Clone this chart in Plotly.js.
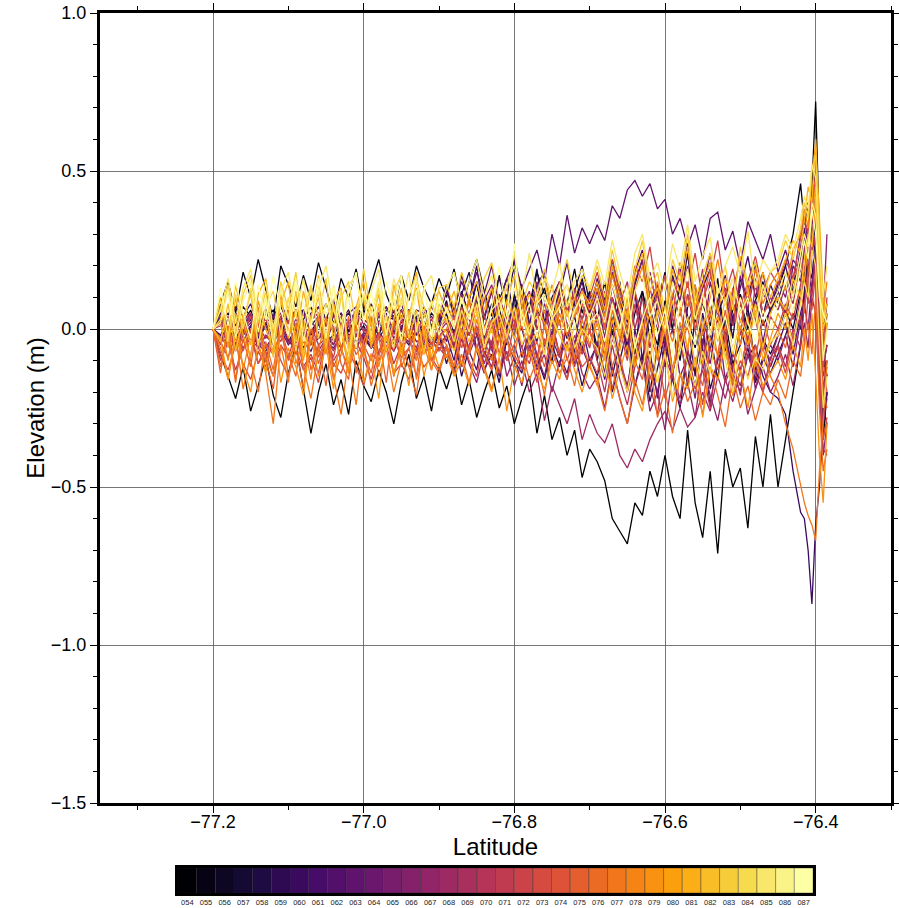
<!DOCTYPE html>
<html>
<head>
<meta charset="utf-8">
<script src="https://cdn.plot.ly/plotly-3.0.1.min.js"></script>
<style>html,body{margin:0;padding:0;background:#fff}#chart{width:899px;height:908px}</style>
</head>
<body>
<div id="chart"></div>
<script>
// Latitude samples (shared by all profiles)
const lat = [-77.2,-77.19,-77.18,-77.17,-77.16,-77.15,-77.14,-77.13,-77.12,-77.11,-77.1,-77.09,-77.08,-77.07,-77.06,-77.05,-77.04,-77.03,-77.02,-77.01,-77,-76.99,-76.98,-76.97,-76.96,-76.95,-76.94,-76.93,-76.92,-76.91,-76.9,
-76.89,-76.88,-76.87,-76.86,-76.85,-76.84,-76.83,-76.82,-76.81,-76.8,-76.79,-76.78,-76.77,-76.76,-76.75,-76.74,-76.73,-76.72,-76.71,-76.7,
-76.69,-76.68,-76.67,-76.66,-76.65,-76.64,-76.63,-76.62,-76.61,-76.6,-76.59,-76.58,-76.57,-76.56,-76.55,-76.54,-76.53,-76.52,-76.51,-76.5,-76.49,-76.48,-76.47,-76.46,
-76.45,-76.44,-76.43,-76.42,-76.415,-76.41,-76.405,-76.4,-76.395,-76.39,-76.385];

// Elevation (m) per profile
const p054 = [0,-0.08,-0.15,-0.22,-0.12,-0.26,-0.18,-0.09,-0.21,-0.28,-0.14,-0.05,-0.19,-0.33,-0.2,-0.11,-0.24,-0.16,-0.27,-0.1,-0.18,-0.23,-0.13,-0.2,-0.3,-0.17,-0.08,-0.22,-0.15,-0.26,-0.12,
-0.19,-0.11,-0.24,-0.16,-0.28,-0.2,-0.13,-0.25,-0.18,-0.3,-0.22,-0.15,-0.33,-0.21,-0.35,-0.28,-0.4,-0.32,-0.47,-0.38,
-0.42,-0.48,-0.6,-0.64,-0.68,-0.55,-0.59,-0.45,-0.53,-0.4,-0.53,-0.6,-0.32,-0.55,-0.66,-0.45,-0.71,-0.38,-0.5,-0.44,-0.63,-0.34,-0.5,-0.27,
-0.5,-0.35,-0.2,-0.05,0.1,0.28,0.45,0.72,0.3,-0.35,-0.2];
const p055 = [0,0.08,0.15,0.05,0.18,0.1,0.22,0.12,0.03,0.2,0.14,0.07,0.17,0.09,0.21,0.13,0.04,0.16,0.1,0.19,0.06,0.14,0.22,0.11,0.05,0.17,0.09,0.2,0.13,0.08,0.16,
0.1,0.19,0.07,0.15,0.22,0.12,0.04,0.17,0.09,0.2,0.13,0.06,0.18,0.11,0.02,0.14,0.08,0.19,0.05,0.12,
0.03,0.15,-0.02,0.1,0.05,-0.08,0.12,0.02,-0.05,0.09,0,0.14,0.04,-0.06,0.08,0.01,0.13,-0.03,0.06,0.11,0,0.09,0.15,0.05,
0.12,0.2,0.3,0.46,0.33,0.4,0.38,0.5,0.2,-0.1,-0.15];
const p056 = [0,0.03,-0.01,0.05,0.02,0.06,-0.01,0.04,0.06,0,0.04,-0.02,0.03,0.07,0.01,0.05,-0.01,0.03,0.05,0.01,0.06,0.02,-0.02,0.04,0.03,0.06,0,0.04,0.01,0.05,0.02,
0.09,-0.02,0.12,0.04,0.15,0,0.08,-0.04,0.11,0.06,0.14,-0.01,0.07,0.13,0.02,0.1,-0.03,0.09,0.16,0.05,
-0.06,0.1,0.02,0.15,-0.08,0.05,0.12,-0.03,0.08,0.18,0,-0.1,0.07,0.14,-0.02,0.04,0.16,-0.07,0.03,0.11,-0.04,0.09,0.01,0.06,
0.1,0.04,0.15,0.2,0.28,0.22,0.35,0.3,0.1,-0.12,-0.05];
const p057 = [0,-0.03,0.01,-0.05,0.02,-0.01,-0.05,0.02,-0.03,0.03,-0.04,0,-0.06,-0.01,0.03,-0.04,-0.02,0.02,-0.06,-0.02,0.01,-0.04,0.02,-0.01,-0.05,0.01,-0.03,0.03,-0.02,-0.05,0,
0.05,-0.06,0.08,-0.02,0.1,-0.09,0.03,0.07,-0.05,0.11,0,-0.08,0.06,0.02,-0.11,0.09,-0.03,0.04,-0.07,0.08,
-0.1,0.02,-0.15,-0.04,0.06,-0.12,0,-0.2,-0.06,0.05,-0.14,-0.02,-0.18,0.04,-0.09,-0.01,-0.16,0.03,-0.11,-0.05,0.07,-0.13,-0.03,-0.08,
-0.02,0.06,0,0.12,0.18,0.1,0.25,0.33,0.05,-0.2,-0.1];
const p058 = [0,0.02,0.05,0.01,0.07,0.04,0,0.06,0.03,0.07,0.02,0.05,0.06,0.01,0.04,0.08,0.02,0.05,-0.01,0.04,0.06,0.02,0.05,0.07,0.03,0,0.06,0.03,0.07,0.01,0.04,
0.14,0.03,0.11,0.18,0.06,0.12,-0.01,0.09,0.16,0.04,0.13,0.07,0.19,0.02,0.1,0.15,0.05,0.12,0.2,0.08,
0.15,0.04,0.2,0.09,-0.02,0.14,0.22,0.06,0.12,0.01,0.17,0.08,0.24,0.03,0.13,0.19,0.05,0.11,-0.03,0.16,0.09,0.21,0.04,0.14,
0.08,0.18,0.12,0.22,0.3,0.26,0.42,0.38,0.15,0,0.08];
const p059 = [0,-0.02,-0.05,-0.01,-0.04,0.01,-0.06,-0.02,-0.05,0.01,-0.03,-0.07,-0.01,-0.04,0.02,-0.05,-0.03,-0.06,0,-0.04,-0.02,-0.06,-0.03,0.01,-0.05,-0.02,-0.05,-0.01,-0.04,-0.06,-0.02,
-0.11,-0.02,-0.15,-0.06,0,-0.13,-0.08,-0.17,-0.03,-0.1,-0.14,0.01,-0.09,-0.16,-0.05,-0.12,0.02,-0.07,-0.18,-0.09,
-0.15,-0.05,-0.2,-0.1,0,-0.18,-0.08,-0.23,-0.12,-0.02,-0.16,-0.25,-0.07,-0.14,0.01,-0.19,-0.1,-0.04,-0.21,-0.13,-0.06,-0.17,-0.09,-0.14,
-0.08,-0.02,0.05,0,0.12,0.2,0.16,0.3,0,-0.25,-0.3];
const p060 = [0,0.03,-0.01,0.04,0,0.03,-0.03,0.05,0.02,-0.02,0.04,0.01,0.06,-0.02,0.02,0.05,-0.01,0.03,0.06,0,-0.03,0.03,0.01,0.05,-0.01,0.02,0.05,-0.02,0.02,0.04,0.01,
0.08,-0.01,0.12,0.04,0.15,-0.03,0.07,0.11,0,0.09,0.14,0.02,-0.04,0.1,0.06,0.13,-0.02,0.08,0.03,0.11,
0.04,-0.08,0.1,0.02,-0.05,0.12,-0.1,0.06,0,-0.12,0.08,-0.04,0.03,-0.15,0.05,-0.07,0.09,-0.02,-0.13,0.01,-0.09,-0.05,-0.15,-0.2,
-0.22,-0.27,-0.45,-0.58,-0.6,-0.7,-0.87,-0.62,-0.5,-0.3,-0.2];
const p061 = [0,0.05,0.02,0.07,0.04,0.08,0.01,0.06,0.04,0.08,0.03,0.06,0,0.05,0.07,0.03,0.09,0.02,0.05,0.07,0.04,0.08,0.02,0.06,0.04,0.08,0.01,0.06,0.05,0.07,0.03,
0.13,0.05,0.17,0.09,0.2,0.03,0.12,0.16,0.07,0.22,0.1,0.01,0.14,0.18,0.06,0.11,0.21,0.08,0.15,0.04,
0.16,0.07,0.22,0.1,0.02,0.18,0.25,0.09,0.14,0,0.2,0.12,0.27,0.05,0.15,0.21,0.08,0.17,0.03,0.13,0.23,0.1,0.18,0.06,
0.14,0.2,0.1,0.26,0.32,0.22,0.4,0.35,0.1,-0.08,0.02];
const p062 = [0,-0.04,-0.01,-0.06,-0.02,0.01,-0.05,-0.07,-0.03,0,-0.05,-0.02,-0.04,-0.07,-0.01,-0.04,-0.06,-0.02,0.01,-0.05,-0.03,-0.06,-0.01,-0.04,-0.07,-0.02,-0.04,0,-0.05,-0.03,-0.05,
-0.02,-0.1,0.03,-0.07,-0.13,0,-0.06,-0.15,-0.03,0.04,-0.09,-0.01,-0.12,-0.05,0.02,-0.08,-0.14,-0.04,0.01,-0.1,
-0.05,-0.16,-0.02,-0.11,-0.2,0,-0.13,-0.07,-0.22,-0.04,-0.15,0.02,-0.1,-0.18,-0.06,-0.24,-0.09,-0.01,-0.14,-0.2,-0.08,-0.16,-0.03,-0.12,
-0.05,0.02,-0.08,0.05,0.1,0.18,0.12,0.25,-0.05,-0.28,-0.2];
const p063 = [0,0.04,0.01,0.05,0.02,-0.01,0.04,0.06,0.02,0.03,0.06,0,0.05,0.03,0.07,0.01,0.04,0.05,0.02,0.06,0.03,0.01,0.05,0.07,0.03,0.04,0.06,0.02,0.05,0.07,0.04,
0.12,0.06,0.15,0.09,0.18,0.11,0.2,0.08,0.16,0.22,0.13,0.19,0.25,0.15,0.3,0.2,0.36,0.24,0.32,0.27,
0.33,0.28,0.39,0.35,0.44,0.47,0.42,0.46,0.38,0.41,0.3,0.35,0.26,0.33,0.22,0.35,0.37,0.25,0.31,0.2,0.34,0.28,0.22,0.3,
0.18,0.25,0.15,0.3,0.35,0.28,0.42,0.38,0.12,-0.1,0.05];
const p064 = [0,-0.02,0.03,-0.03,0.01,0.04,-0.02,0.01,-0.04,0.03,0,-0.03,0.05,-0.01,0.02,-0.04,0.02,0.04,-0.02,0,-0.05,0.03,-0.01,0.04,-0.03,0.01,-0.02,0.03,-0.04,0.01,0.02,
-0.04,0.07,-0.01,0.1,-0.07,0.04,0.12,-0.03,0.06,0,0.11,-0.06,0.03,0.08,-0.02,0.13,0.01,-0.05,0.09,0.04,
0.1,-0.03,0.14,0.04,-0.08,0.12,0,0.18,0.06,-0.05,0.1,0.2,0.02,0.08,-0.06,0.15,0.05,-0.02,0.12,0.22,0.03,0.09,-0.04,0.07,
0.12,0.05,0.2,0.15,0.25,0.32,0.28,0.45,0.2,-0.05,-0.15];
const p065 = [0,-0.03,0,-0.05,-0.01,0.02,-0.04,-0.06,-0.02,0.01,-0.04,-0.02,0.01,-0.05,-0.03,-0.01,-0.05,0.02,-0.03,-0.06,-0.01,-0.04,0.01,-0.02,-0.05,-0.02,0.01,-0.04,-0.03,-0.06,-0.01,
-0.09,-0.02,-0.12,0.01,-0.07,-0.14,-0.04,0.02,-0.1,-0.05,-0.13,0,-0.08,-0.15,-0.03,-0.09,0.01,-0.11,-0.06,-0.12,
-0.04,-0.14,0.02,-0.1,-0.18,-0.05,0.04,-0.12,-0.2,-0.07,0,-0.15,-0.09,-0.22,-0.03,-0.11,0.03,-0.16,-0.08,-0.13,-0.02,-0.19,-0.1,-0.05,
-0.1,-0.02,-0.12,0.03,0.08,0,0.15,0.22,-0.1,-0.3,-0.22];
const p066 = [0,0.03,-0.01,0.04,0.01,0.05,-0.02,0.02,0.04,0,0.03,0.06,-0.01,0.03,0.05,0.01,0.04,-0.02,0.02,0.05,0.02,-0.01,0.04,0.01,0.06,-0.01,0.03,0.02,0.05,0,0.03,
0.08,0,0.11,0.03,-0.02,0.09,0.14,0.02,0.07,-0.03,0.1,0.05,0.15,0.01,0.08,0.12,-0.01,0.06,0.13,0.04,
0.12,0.02,0.18,0.08,0,0.15,0.22,0.05,0.11,-0.03,0.16,0.09,0.2,0.04,0.13,0.24,0.07,0.1,0.01,0.17,0.06,0.19,0.11,0.08,
0.15,0.1,0.22,0.18,0.3,0.25,0.4,0.48,0.25,0.05,0.3];
const p067 = [0,-0.03,-0.05,-0.02,-0.06,-0.03,-0.01,-0.05,-0.07,-0.02,-0.04,-0.06,-0.01,-0.04,-0.07,-0.03,-0.05,0,-0.04,-0.06,-0.02,-0.05,-0.08,-0.03,-0.01,-0.05,-0.04,-0.07,-0.02,-0.04,-0.06,
-0.06,-0.14,-0.03,-0.11,-0.17,-0.07,-0.12,-0.02,-0.15,-0.09,-0.18,-0.05,-0.13,-0.08,-0.2,-0.1,-0.16,-0.04,-0.14,-0.19,
-0.15,-0.25,-0.12,-0.22,-0.3,-0.18,-0.1,-0.26,-0.2,-0.32,-0.14,-0.24,-0.17,-0.28,-0.11,-0.21,-0.29,-0.16,-0.23,-0.13,-0.27,-0.19,-0.12,-0.2,
-0.15,-0.08,-0.18,-0.05,0.02,-0.06,0.1,0.05,-0.2,-0.4,-0.3];
const p068 = [0,0.02,-0.02,0.03,-0.01,0.04,0.01,-0.03,0.02,0.05,-0.01,0.03,0,0.04,-0.03,0.02,0.05,-0.01,0.02,-0.02,0.03,0.01,0.05,-0.02,0.01,0.04,-0.03,0.02,0,0.03,-0.01,
0.02,-0.05,0.04,-0.08,-0.02,-0.11,-0.04,-0.14,-0.07,-0.18,-0.1,-0.2,-0.14,-0.29,-0.18,-0.24,-0.3,-0.22,-0.35,-0.27,
-0.33,-0.36,-0.3,-0.4,-0.44,-0.38,-0.42,-0.35,-0.3,-0.26,-0.32,-0.25,-0.31,-0.28,-0.2,-0.26,-0.15,-0.22,-0.12,-0.18,-0.08,-0.14,-0.05,-0.1,
-0.02,0.05,-0.04,0.1,0.16,0.08,0.24,0.3,0.05,-0.15,-0.1];
const p069 = [0,-0.04,-0.01,-0.05,0,-0.03,-0.06,-0.02,-0.04,0.01,-0.03,-0.06,-0.02,0.01,-0.05,-0.03,-0.07,-0.01,-0.04,-0.02,-0.05,0,-0.03,-0.06,-0.01,-0.04,-0.02,-0.06,0.01,-0.03,-0.02,
0,-0.06,0.05,-0.02,0.08,0.01,-0.05,0.1,0.03,-0.03,0.07,0.12,0,0.06,-0.04,0.09,0.04,0.13,-0.01,0.08,
0.02,0.12,-0.04,0.08,0.15,0,0.1,-0.06,0.06,0.17,0.03,-0.03,0.11,0.05,0.19,-0.02,0.08,0.13,0.01,0.09,-0.05,0.14,0.04,0.1,
0.06,0.14,0.08,0.2,0.26,0.18,0.34,0.4,0.15,-0.12,-0.05];
const p070 = [0,0.01,0.04,-0.01,0.03,0.05,0.01,0.03,-0.01,0.04,0.02,0.06,0,0.03,0.05,-0.02,0.02,0.04,0.01,0.05,-0.01,0.03,0.02,0.04,0,0.06,0.02,-0.01,0.04,0.03,0.05,
0.03,-0.04,0.06,-0.02,0.08,0,-0.07,0.04,-0.03,0.05,-0.06,0.02,-0.09,0.01,-0.05,0.03,-0.1,-0.02,-0.08,0,
-0.1,-0.2,-0.05,-0.16,-0.24,-0.12,-0.02,-0.18,-0.27,-0.09,-0.15,-0.22,-0.06,-0.19,-0.13,-0.25,-0.08,-0.17,-0.11,-0.21,-0.04,-0.14,-0.2,-0.09,
-0.05,-0.12,0,-0.06,0.08,0.15,0.1,0.22,-0.15,-0.38,-0.4];
const p071 = [0,-0.1,-0.04,-0.13,-0.06,-0.02,-0.11,-0.07,-0.15,-0.05,-0.09,-0.01,-0.12,-0.08,-0.14,-0.03,-0.1,-0.06,-0.13,-0.04,-0.09,-0.16,-0.07,-0.02,-0.11,-0.05,-0.12,-0.08,-0.03,-0.1,-0.06,
-0.09,-0.02,-0.12,-0.05,0.01,-0.08,-0.13,-0.03,-0.1,0.02,-0.06,-0.11,-0.01,-0.07,0.03,-0.09,-0.04,-0.12,0,-0.06,
0.05,-0.06,0.1,0,-0.1,0.08,-0.03,0.13,0.02,-0.08,0.06,-0.04,0.11,-0.01,-0.12,0.07,0.01,-0.06,0.09,-0.02,0.14,0.03,-0.07,0.04,
0,0.08,0.03,0.14,0.2,0.12,0.3,0.26,0,-0.2,-0.12];
const p072 = [0,-0.05,0.01,-0.07,-0.02,0.04,-0.06,-0.1,0,-0.04,0.03,-0.08,-0.01,-0.05,0.05,-0.03,-0.09,0.02,-0.06,0,-0.04,0.04,-0.08,-0.02,-0.07,0.03,-0.03,-0.1,0.01,-0.05,0,
0.03,-0.02,0.07,0,0.1,0.04,-0.01,0.08,0.13,0.02,0.09,0.05,0.12,0,0.08,0.15,0.06,0.11,0.03,0.1,
0.18,0.08,0.22,0.12,0.05,0.2,0.15,0.26,0.1,0.17,0.04,0.21,0.13,0.24,0.09,0.16,0.28,0.11,0.19,0.07,0.15,0.23,0.12,0.18,
0.14,0.22,0.16,0.28,0.35,0.3,0.46,0.42,0.2,-0.05,0.1];
const p073 = [0,-0.08,-0.13,-0.05,-0.11,-0.16,-0.07,-0.12,-0.03,-0.1,-0.15,-0.06,-0.13,-0.09,-0.17,-0.04,-0.11,-0.14,-0.07,-0.12,-0.18,-0.08,-0.1,-0.05,-0.14,-0.11,-0.16,-0.06,-0.12,-0.09,-0.13,
-0.05,-0.12,-0.02,-0.1,-0.15,-0.04,-0.09,-0.14,0,-0.08,-0.13,-0.06,-0.17,-0.03,-0.11,-0.07,-0.16,-0.05,-0.12,-0.09,
-0.14,-0.04,-0.19,-0.08,-0.2,-0.1,0,-0.16,-0.07,-0.22,-0.12,-0.03,-0.17,-0.09,-0.24,-0.06,-0.13,-0.02,-0.18,-0.1,-0.15,-0.05,-0.2,-0.11,
-0.06,-0.14,-0.02,0.04,-0.04,0.1,0.06,0.18,-0.12,-0.35,-0.28];
const p074 = [0,-0.04,-0.09,-0.02,-0.07,0,-0.11,-0.05,-0.08,-0.01,-0.1,-0.04,-0.07,0.01,-0.09,-0.03,-0.12,-0.06,-0.02,-0.08,-0.05,-0.1,-0.01,-0.07,-0.03,-0.09,-0.06,0,-0.08,-0.04,-0.07,
-0.02,0.04,-0.06,0.01,0.07,-0.04,0.03,-0.08,0.05,0,0.09,-0.03,0.06,-0.05,0.02,0.1,-0.02,0.04,0.08,-0.01,
0.1,0,0.14,0.05,-0.04,0.12,0.03,0.17,0.07,-0.02,0.11,0.04,0.15,0,0.09,0.19,0.06,-0.03,0.13,0.02,0.1,0.16,0.05,0.08,
0.1,0.04,0.16,0.22,0.18,0.3,0.36,0.5,0.22,-0.1,-0.2];
const p075 = [0,-0.14,0.02,-0.16,-0.03,-0.12,0.04,-0.1,-0.19,0,-0.08,-0.15,0.03,-0.13,-0.05,-0.18,0.01,-0.11,-0.16,0.05,-0.07,-0.14,-0.02,-0.17,0.03,-0.12,-0.06,-0.15,0.02,-0.1,-0.04,
-0.09,-0.02,-0.11,-0.06,0,-0.08,-0.13,-0.03,-0.1,-0.05,0.01,-0.09,-0.04,-0.12,-0.02,-0.07,0.02,-0.1,-0.05,-0.01,
-0.08,0.02,-0.12,-0.04,0.05,-0.1,-0.16,-0.02,-0.09,0.04,-0.13,-0.06,0.01,-0.11,-0.18,-0.03,-0.08,0.06,-0.07,-0.14,-0.01,-0.09,0.03,-0.05,
0,-0.06,0.06,0.12,0.05,0.18,0.25,0.4,0.1,-0.2,-0.25];
const p076 = [0,-0.12,-0.01,-0.17,0.02,-0.1,-0.2,-0.04,-0.13,0.03,-0.15,-0.06,-0.19,0.01,-0.11,-0.03,-0.16,-0.08,0.04,-0.14,-0.05,-0.18,-0.09,0.02,-0.15,-0.04,-0.12,-0.21,-0.02,-0.1,-0.14,
-0.06,-0.14,-0.08,-0.17,-0.05,-0.12,-0.19,-0.09,-0.03,-0.13,-0.07,-0.16,-0.1,-0.21,-0.06,-0.14,-0.09,-0.18,-0.04,-0.12,
-0.17,-0.26,-0.13,-0.22,-0.3,-0.16,-0.24,-0.1,-0.28,-0.19,-0.33,-0.14,-0.23,-0.17,-0.27,-0.12,-0.21,-0.31,-0.15,-0.25,-0.18,-0.29,-0.2,-0.24,
-0.16,-0.22,-0.1,-0.15,-0.05,0.02,-0.08,0.1,-0.25,-0.45,-0.38];
const p077 = [0,-0.06,-0.16,-0.02,-0.19,-0.08,0.03,-0.14,-0.3,-0.05,-0.17,0.02,-0.12,-0.22,-0.07,0.04,-0.15,-0.27,-0.09,-0.24,-0.04,0.02,-0.15,-0.06,-0.2,-0.1,0.01,-0.16,-0.05,-0.13,-0.02,
-0.05,-0.12,0,-0.08,0.03,-0.06,-0.1,0.02,-0.04,-0.09,0.04,-0.03,-0.11,0.01,-0.07,0.05,-0.02,-0.09,0.03,-0.05,
0.02,-0.08,0.06,-0.03,0.1,-0.06,0,0.08,-0.1,0.03,-0.04,0.07,-0.07,0.12,-0.02,0.05,-0.09,0.01,0.09,-0.05,0.04,-0.12,-0.06,-0.15,
-0.2,-0.3,-0.38,-0.5,-0.55,-0.59,-0.62,-0.67,-0.45,-0.3,-0.1];
const p078 = [0,0.02,-0.1,0.05,-0.13,-0.02,0.07,-0.09,-0.15,0,0.06,-0.11,-0.03,-0.16,0.04,-0.08,0.08,-0.06,-0.14,0.01,-0.09,0.05,-0.12,-0.01,-0.15,-0.04,0.06,-0.1,0.02,-0.13,-0.03,
0,0.06,-0.03,0.09,0.02,0.11,-0.01,0.07,0.13,0.03,0.08,-0.02,0.1,0.05,0.14,0.01,0.09,0.04,0.12,0.06,
0.13,0.04,0.17,0.08,-0.01,0.12,0.2,0.06,0.15,0.02,0.11,0.18,0.07,0.14,0,0.1,0.22,0.09,0.16,0.05,0.12,0.19,0.08,0.14,
0.18,0.12,0.25,0.3,0.38,0.32,0.5,0.58,0.3,0.05,0.15];
const p079 = [0,-0.03,-0.16,-0.01,-0.12,-0.2,-0.04,-0.14,0.02,-0.17,-0.06,-0.12,-0.21,-0.02,-0.15,-0.05,-0.19,0.01,-0.13,-0.04,-0.17,-0.08,-0.22,-0.01,-0.14,-0.06,-0.18,0.02,-0.15,-0.05,-0.12,
-0.08,-0.15,-0.1,-0.18,-0.06,-0.13,-0.2,-0.09,-0.26,-0.12,-0.17,-0.07,-0.14,-0.19,-0.1,-0.16,-0.05,-0.13,-0.2,-0.11,
-0.18,-0.08,-0.22,-0.13,-0.05,-0.2,-0.26,-0.11,-0.17,-0.07,-0.23,-0.14,-0.19,-0.09,-0.28,-0.12,-0.16,-0.04,-0.21,-0.13,-0.25,-0.1,-0.18,-0.14,
-0.1,-0.16,-0.05,-0.12,0,-0.1,0.05,-0.15,-0.4,-0.55,-0.3];
const p080 = [0,0.07,-0.06,0.1,-0.02,-0.09,0.09,0,-0.07,0.11,-0.03,0.06,-0.1,0.04,0.12,-0.05,0.08,-0.02,-0.11,0.05,0.1,-0.06,0.07,-0.03,0.09,-0.08,0.04,0.13,-0.02,-0.09,0.06,
0.02,0.08,-0.03,0.05,0.11,0,0.06,-0.04,0.09,0.03,0.12,-0.01,0.07,0.02,-0.05,0.08,0.04,0.1,-0.02,0.05,
-0.02,-0.1,0.03,-0.07,0.06,-0.12,-0.03,0.05,-0.09,0,-0.14,0.02,-0.06,0.08,-0.11,-0.01,0.04,-0.08,-0.15,0.01,-0.05,0.06,-0.1,-0.03,
0.05,0,0.12,0.2,0.15,0.28,0.35,0.45,0.18,-0.08,0.02];
const p081 = [0,0.1,-0.02,0.14,0.03,-0.05,0.11,0.16,-0.01,0.08,0.15,-0.04,0.12,0.02,0.17,-0.03,0.09,0.13,-0.06,0.07,0.15,0.01,0.11,-0.04,0.14,0.03,0.1,0.18,-0.02,0.08,0.12,
0.05,0.12,0.02,0.1,0.15,0.06,0.13,0,0.09,0.17,0.04,0.11,0.07,0.16,0.03,0.1,0.14,0.05,0.12,0.08,
0.15,0.06,0.2,0.1,0.03,0.17,0.24,0.08,0.13,0.02,0.19,0.11,0.26,0.07,0.14,0.21,0.05,0.16,0.09,0.23,0.12,0.04,0.18,0.1,
0.16,0.22,0.28,0.24,0.35,0.45,0.4,0.6,0.35,0.1,0];
const p082 = [0,-0.04,0.08,-0.07,0.03,0.11,-0.05,0.06,-0.09,0.09,-0.01,0.12,-0.08,0.02,0.1,-0.06,0.07,0,-0.1,0.05,0.11,-0.04,0.08,-0.07,0.03,0.13,-0.03,0.06,-0.08,0.09,0.01,
-0.01,-0.07,0.02,-0.04,0.05,-0.06,0,-0.09,0.03,-0.03,0.06,-0.05,-0.01,-0.08,0.04,-0.02,-0.07,0.01,-0.05,0.02,
0.03,-0.07,0.08,-0.02,0.11,-0.05,0.02,-0.1,0.06,-0.01,0.09,-0.06,0.04,-0.12,0.01,0.07,-0.04,0.1,-0.08,0.03,-0.02,0.08,-0.06,0.05,
0.1,0.06,0.16,0.1,0.22,0.3,0.26,0.42,0.2,0,0.05];
const p083 = [0,0.03,0.14,-0.01,0.11,0.17,0.02,0.12,-0.03,0.15,0.06,0.18,-0.01,0.13,0.04,0.16,-0.04,0.1,0.15,0.01,0.19,0.05,0.13,-0.02,0.12,0.17,0.03,0.15,0.07,-0.01,0.13,
0.14,0.07,0.18,0.1,0.05,0.16,0.21,0.09,0.13,0.24,0.08,0.15,0.11,0.19,0.06,0.14,0.22,0.1,0.17,0.12,
0.2,0.1,0.25,0.14,0.07,0.19,0.28,0.12,0.18,0.05,0.22,0.15,0.3,0.09,0.17,0.24,0.11,0.2,0.06,0.26,0.14,0.21,0.1,0.18,
0.2,0.28,0.22,0.32,0.4,0.35,0.5,0.55,0.3,0.02,0.08];
const p084 = [0,0.09,-0.03,0.11,0,0.13,-0.05,0.07,0.12,-0.02,0.1,-0.07,0.05,0.14,-0.03,0.08,0.01,0.12,-0.08,0.06,0.11,-0.02,0.13,0.03,-0.06,0.1,0,0.12,0.05,-0.04,0.08,
0.03,-0.04,0.06,-0.01,0.08,-0.06,0.02,0.05,-0.03,0.07,-0.05,0.01,0.04,-0.08,0.03,-0.02,0.06,-0.06,0,-0.03,
-0.06,-0.15,-0.02,-0.12,-0.2,-0.05,-0.13,0,-0.17,-0.08,-0.22,-0.04,-0.11,-0.18,-0.07,-0.14,0.02,-0.1,-0.2,-0.06,-0.16,-0.09,-0.13,-0.04,
-0.02,0.05,-0.05,0.08,0.15,0.1,0.25,0.2,-0.05,-0.25,-0.15];
const p085 = [0,0.06,0.16,0.02,0.13,0.19,0.03,0.15,0,0.12,0.18,0.04,0.16,0.01,0.13,0.2,0.06,-0.01,0.14,0.17,0.03,0.12,0.19,0.02,0.16,0.07,0.18,-0.01,0.13,0.17,0.05,
0.13,0.18,0.08,0.15,0.22,0.1,0.17,0.05,0.14,0.2,0.11,0.24,0.09,0.16,0.12,0.21,0.07,0.15,0.19,0.13,
0.22,0.14,0.28,0.18,0.1,0.24,0.3,0.16,0.21,0.12,0.27,0.19,0.33,0.15,0.23,0.29,0.11,0.2,0.26,0.17,0.31,0.13,0.22,0.18,
0.22,0.3,0.25,0.35,0.42,0.38,0.52,0.48,0.25,0.1,0.2];
const p086 = [0,0.02,0.12,-0.03,0.09,0.15,-0.01,0.1,-0.05,0.13,0.03,0.16,-0.04,0.08,0.12,-0.03,0.14,0.02,0.1,-0.06,0.12,0.04,0.15,-0.02,0.1,-0.04,0.11,0.16,0.01,0.09,-0.02,
0.07,0.01,0.1,0.04,0.12,-0.01,0.06,0.09,0.02,0.13,0.05,-0.02,0.08,0.11,0.03,0.07,0.14,0,0.09,0.04,
0.1,0.02,0.14,0.06,-0.03,0.12,0.17,0.04,0.09,0,0.15,0.07,0.19,0.03,0.11,-0.02,0.13,0.08,0.16,0.05,0.1,0.01,0.14,0.07,
0.12,0.18,0.1,0.24,0.3,0.26,0.4,0.36,0.12,-0.1,0];
const p087 = [0,0.13,0.01,0.15,0.05,-0.03,0.14,0.03,0.17,0.06,-0.02,0.15,0.08,0,0.16,0.04,0.13,-0.04,0.11,0.18,0.02,0.12,-0.01,0.15,0.06,0.17,0,0.12,0.14,-0.02,0.1,
0.06,0,0.09,0.03,0.12,-0.02,0.07,0.2,0.04,0.27,0.01,0.08,-0.03,0.1,0.05,0.14,-0.01,0.06,0.11,0.02,
0.05,-0.04,0.08,0,0.12,-0.06,0.03,0.1,-0.02,0.06,-0.08,0.09,0.01,-0.05,0.07,0.13,-0.03,0.04,-0.07,0.1,0.02,-0.04,0.06,0,
0.08,0.15,0.05,0.2,0.28,0.22,0.38,0.3,0.1,0.05,0.02];

// Profile labels (also the colour-bar tick labels)
const profileNames = ['054','055','056','057','058','059','060','061','062','063','064','065','066','067','068','069','070','071','072','073','074','075','076','077','078','079','080','081','082','083','084','085','086','087'];
const profiles = [p054,p055,p056,p057,p058,p059,p060,p061,p062,p063,p064,p065,p066,p067,p068,p069,p070,p071,p072,p073,p074,p075,p076,p077,p078,p079,p080,p081,p082,p083,p084,p085,p086,p087];

// inferno colour map
const infernoStops = ['#000004','#160b39','#420a68','#6a176e','#932667','#bc3754','#dd513a','#f37819','#fca50a','#f6d746','#fcffa4'];
function hexToRgb(h){return [parseInt(h.slice(1,3),16),parseInt(h.slice(3,5),16),parseInt(h.slice(5,7),16)];}
function inferno(t){
  const n = infernoStops.length - 1;
  const p = Math.min(Math.max(t,0),1) * n;
  const i = Math.min(Math.floor(p), n - 1);
  const f = p - i;
  const a = hexToRgb(infernoStops[i]), b = hexToRgb(infernoStops[i+1]);
  const c = a.map((v,k)=>Math.round(v + (b[k]-v)*f));
  return 'rgb(' + c.join(',') + ')';
}
const colors = profileNames.map((_, i) => inferno(i / (profileNames.length - 1)));

const traces = profiles.map((y, i) => ({
  type: 'scatter', mode: 'lines', x: lat, y: y, name: profileNames[i],
  line: {color: colors[i], width: 1.3}, xaxis: 'x', yaxis: 'y',
  showlegend: false, hoverinfo: 'skip'
}));

// colour bar drawn as a strip of swatches
const swatch = profileNames.map(() => 1);
traces.push({
  type: 'bar', x: profileNames, y: swatch, xaxis: 'x2', yaxis: 'y2',
  marker: {color: colors, line: {color: 'rgba(30,30,30,0.6)', width: 0.6}},
  width: 1, showlegend: false, hoverinfo: 'skip'
});

const font = '"Liberation Sans", Arial, Helvetica, sans-serif';
const layout = {
  width: 899, height: 908,
  margin: {l: 100, r: 8, t: 13, b: 8, pad: 0},
  paper_bgcolor: '#fff', plot_bgcolor: '#fff',
  font: {family: font, color: '#000'},
  showlegend: false, bargap: 0,
  xaxis: {
    domain: [0, 1], anchor: 'y', range: [-77.35, -76.30],
    tick0: -77.2, dtick: 0.2, tickformat: '.1f',
    ticks: 'outside', ticklen: 7, tickwidth: 1, tickcolor: '#000',
    ticklabelstandoff: -7,
    minor: {dtick: 0.1, ticks: 'outside', ticklen: 4, tickwidth: 1, tickcolor: '#000', showgrid: false},
    showline: true, linewidth: 3, linecolor: '#000', mirror: 'allticks',
    showgrid: true, gridcolor: '#555', gridwidth: 0.8, zeroline: false,
    tickfont: {size: 18, color: '#000'},
    title: {text: 'Latitude', font: {size: 24, color: '#000'}, standoff: 8}
  },
  yaxis: {
    domain: [0.10936, 1], anchor: 'x', range: [-1.5, 1.0],
    tick0: 0, dtick: 0.5, tickformat: '.1f',
    ticks: 'outside', ticklen: 7, tickwidth: 1, tickcolor: '#000',
    minor: {dtick: 0.1, ticks: 'outside', ticklen: 4, tickwidth: 1, tickcolor: '#000', showgrid: false},
    showline: true, linewidth: 3, linecolor: '#000', mirror: 'allticks',
    showgrid: true, gridcolor: '#555', gridwidth: 0.8, zeroline: false,
    tickfont: {size: 18, color: '#000'},
    title: {text: 'Elevation (m)', font: {size: 24, color: '#000'}, standoff: 0}
  },
  xaxis2: {
    domain: [0.0986, 0.9014], anchor: 'y2', type: 'category', range: [-0.5, 33.5],
    showline: true, mirror: true, linewidth: 2.5, linecolor: '#000',
    ticks: '', showgrid: false, zeroline: false,
    tickfont: {size: 7.5, color: '#222'}
  },
  yaxis2: {
    domain: [0.00789, 0.03608], anchor: 'x2', range: [0, 1],
    showline: true, mirror: true, linewidth: 2.5, linecolor: '#000',
    ticks: '', showticklabels: false, showgrid: false, zeroline: false
  }
};

Plotly.newPlot('chart', traces, layout, {displayModeBar: false, staticPlot: true});
</script>
</body>
</html>
